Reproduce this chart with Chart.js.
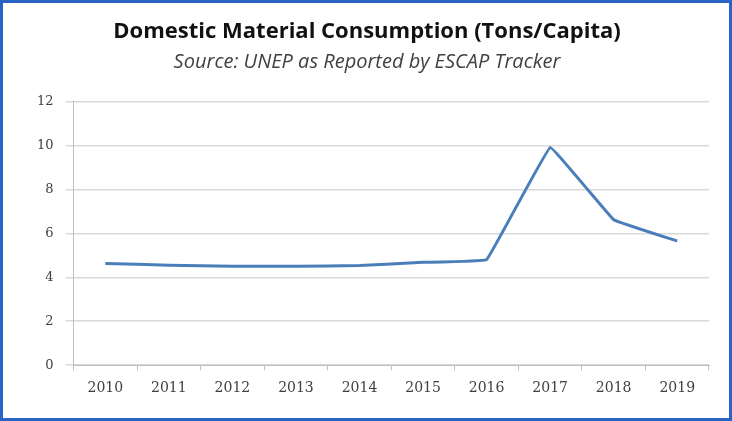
<!DOCTYPE html>
<html>
<head>
<meta charset="utf-8">
<script src="https://cdn.jsdelivr.net/npm/chart.js@4"></script>
<style>
  html, body { margin: 0; padding: 0; background: #fff; }
  #wrap { width: 732px; height: 421px; box-sizing: border-box; border: 3px solid #2b63c4; background: #fff; }
  canvas { display: block; }
</style>
</head>
<body>
<div id="wrap"><canvas id="myChart" width="726" height="415"></canvas></div>
<script>
// chart data
const years = ['2010', '2011', '2012', '2013', '2014', '2015', '2016', '2017', '2018', '2019'];
const dmcValues = [4.63, 4.55, 4.5, 4.5, 4.53, 4.68, 4.8, 9.9, 6.62, 5.65];
const yTicks = [0, 2, 4, 6, 8, 10, 12];

const titleText = 'Domestic Material Consumption (Tons/Capita)';
const subtitleText = 'Source: UNEP as Reported by ESCAP Tracker';

const ctx = document.getElementById('myChart');

new Chart(ctx, {
    type: 'line',
    data: {
        labels: years,
        datasets: [{
            label: 'DMC',
            data: dmcValues,
            borderColor: '#4a7ebb',
            borderWidth: 3,
            pointRadius: 0,
            tension: 0.05,
            fill: false
        }]
    },
    options: {
        responsive: false,
        animation: false,
        layout: {
            padding: { top: 16, left: 22, right: 20, bottom: 11 }
        },
        plugins: {
            legend: { display: false },
            tooltip: { enabled: false },
            title: {
                display: true,
                text: titleText,
                color: '#111111',
                font: { family: 'Open Sans', size: 22, weight: 'bold' },
                padding: { top: 0, bottom: 5 }
            },
            subtitle: {
                display: true,
                text: subtitleText,
                color: '#404040',
                font: { family: 'Open Sans', size: 20, style: 'italic' },
                padding: { top: 0, bottom: 27 }
            }
        },
        scales: {
            x: {
                offset: true,
                grid: {
                    display: true,
                    drawOnChartArea: false,
                    offset: true,
                    color: '#bfbfbf',
                    tickLength: 5
                },
                border: { color: '#bfbfbf', width: 1 },
                ticks: {
                    color: '#404040',
                    font: { family: 'DejaVu Serif', size: 14 },
                    padding: 10,
                    maxRotation: 0
                }
            },
            y: {
                min: 0,
                max: 12,
                afterBuildTicks: function (axis) {
                    axis.ticks = yTicks.map(v => ({ value: v }));
                },
                grid: {
                    color: '#d9d9d9',
                    lineWidth: 1.5,
                    tickLength: 8
                },
                border: { color: '#bfbfbf', width: 1 },
                ticks: {
                    color: '#404040',
                    font: { family: 'DejaVu Serif', size: 13 },
                    padding: 12
                }
            }
        }
    }
});
</script>
</body>
</html>
